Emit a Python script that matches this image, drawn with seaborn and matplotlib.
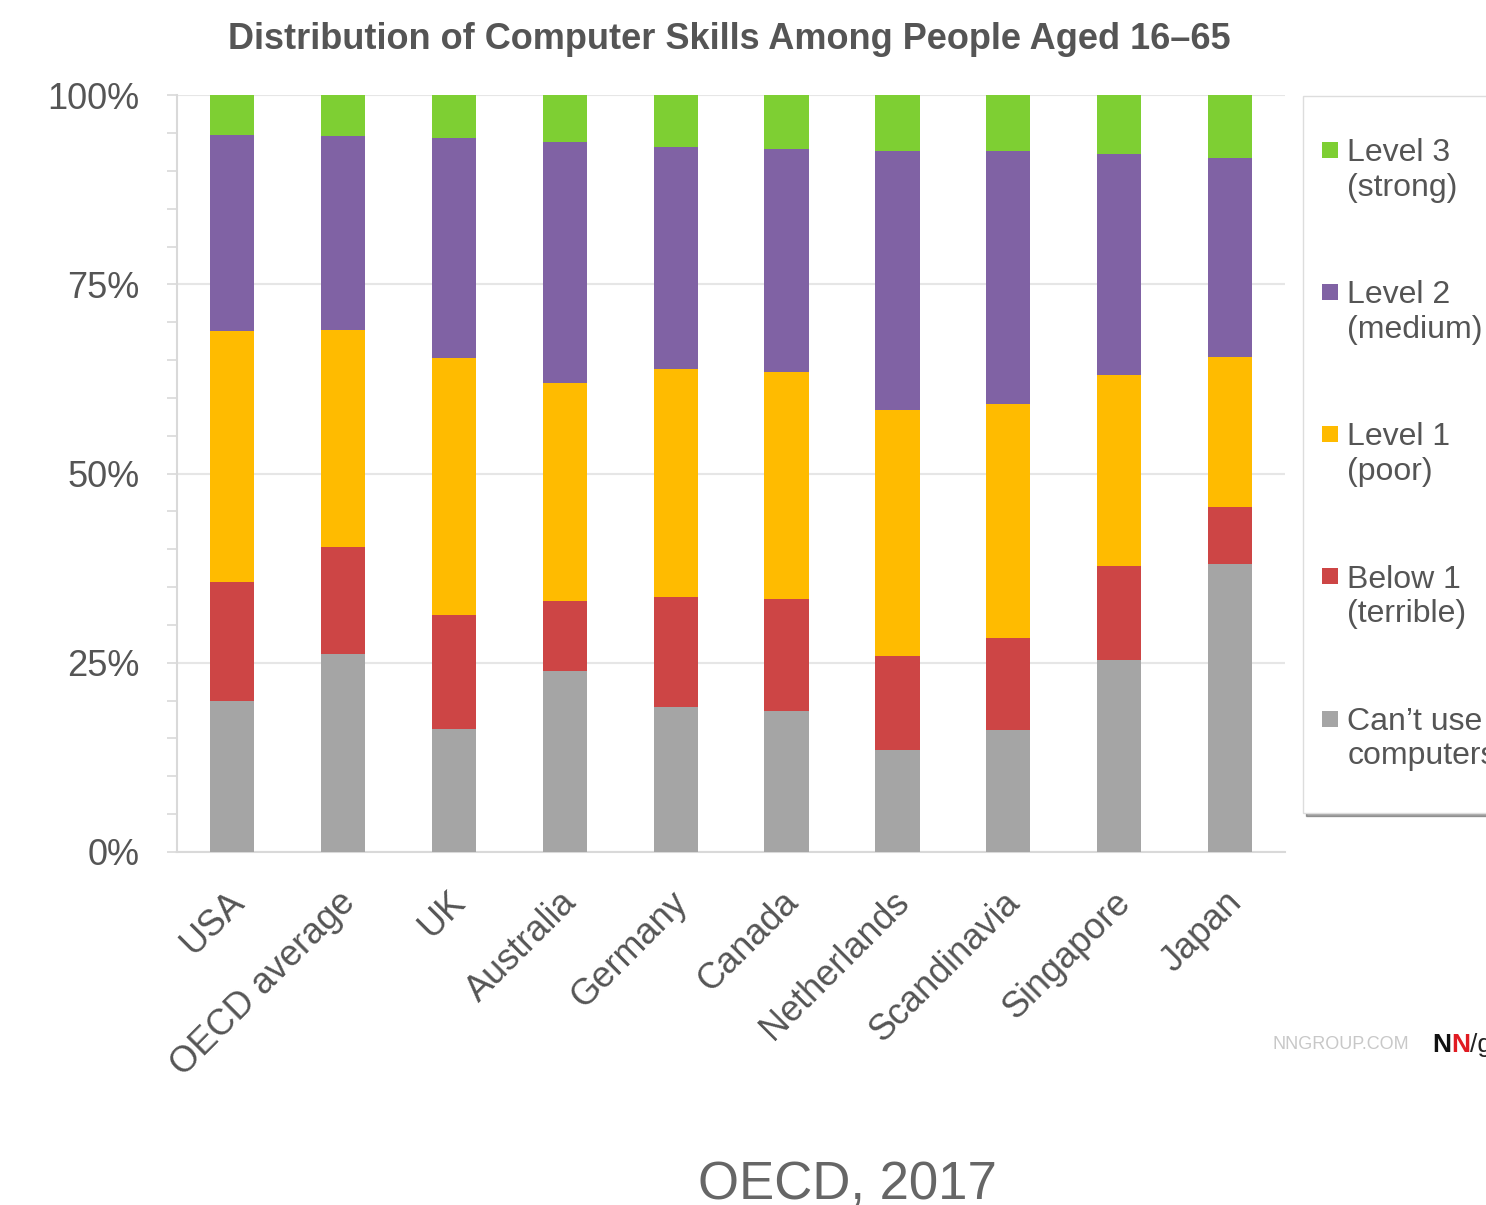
import matplotlib
matplotlib.use("Agg")
import matplotlib.pyplot as plt
import matplotlib.transforms as mtransforms
from matplotlib.patches import Patch, Rectangle
from matplotlib.legend_handler import HandlerPatch
from matplotlib.ticker import MultipleLocator, PercentFormatter
import seaborn as sns
import pandas as pd

countries = ['USA', 'OECD average', 'UK', 'Australia', 'Germany', 'Canada',
             'Netherlands', 'Scandinavia', 'Singapore', 'Japan']
# share of people (%) per skill level, bottom to top
cant_use = [20.0, 26.2, 16.2, 23.9, 19.2, 18.6, 13.5, 16.1, 25.4, 38.0]
below_1 = [15.7, 14.1, 15.1, 9.3, 14.5, 14.8, 12.4, 12.2, 12.4, 7.6]
level_1 = [33.1, 28.7, 34.0, 28.8, 30.1, 30.0, 32.5, 30.9, 25.2, 19.8]
level_2 = [26.0, 25.6, 29.0, 31.8, 29.3, 29.5, 34.2, 33.4, 29.2, 26.3]
level_3 = [5.2, 5.4, 5.7, 6.2, 6.9, 7.1, 7.4, 7.4, 7.8, 8.3]

levels = ["Can\u2019t use\ncomputers", 'Below 1\n(terrible)', 'Level 1\n(poor)',
          'Level 2\n(medium)', 'Level 3\n(strong)']
colors = ['#a5a5a5', '#cd4545', '#ffbb00', '#8062a4', '#7ecf33']

df = pd.DataFrame({'country': countries, levels[0]: cant_use, levels[1]: below_1,
                   levels[2]: level_1, levels[3]: level_2, levels[4]: level_3})
cum = df[levels].cumsum(axis=1)
cum['country'] = df['country']

sns.set_style('white')
plt.rcParams['font.family'] = ['Liberation Sans', 'DejaVu Sans']
grey = '#555555'

fig = plt.figure(figsize=(14.86, 12.05), dpi=100)
ax = fig.add_axes([0.119, 0.293, 0.746, 0.628])

# stacked bars: draw the tallest cumulative first, then cover downward
for lev, col in zip(levels[::-1], colors[::-1]):
    sns.barplot(data=cum, x='country', y=lev, color=col, width=0.4,
                saturation=1, ax=ax, zorder=3, linewidth=0)

ax.set_xlim(-0.5, 9.5)
ax.set_ylim(0, 100)
ax.set_xlabel('')
ax.set_ylabel('')
ax.yaxis.set_major_locator(MultipleLocator(25))
ax.yaxis.set_minor_locator(MultipleLocator(5))
ax.yaxis.set_major_formatter(PercentFormatter(decimals=0))
ax.grid(axis='y', color='#e6e6e6', linewidth=1.5, zorder=0)
for s in ['top', 'right']:
    ax.spines[s].set_visible(False)
for s in ['left', 'bottom']:
    ax.spines[s].set_color('#d9d9d9')
    ax.spines[s].set_linewidth(1.5)
ax.tick_params(axis='y', which='both', left=True, length=7, width=1.2,
               color='#d9d9d9', labelsize=26, labelcolor=grey, pad=20)
ax.tick_params(axis='x', bottom=False, labelsize=26, labelcolor=grey, pad=20)

offset = mtransforms.ScaledTranslation(-6 / 100, 0, fig.dpi_scale_trans)
for lab in ax.get_xticklabels():
    lab.set_rotation(45)
    lab.set_ha('right')
    lab.set_va('top')
    lab.set_rotation_mode('anchor')
    lab.set_transform(lab.get_transform() + offset)

fig.text(0.491, 0.967, 'Distribution of Computer Skills Among People Aged 16\u201365',
         ha='center', va='center', fontsize=26, fontweight='bold', color=grey)


# legend square sits next to the first line of each two-line label
def top_square(legend, orig_handle, xdescent, ydescent, width, height, fontsize):
    s = 0.5 * fontsize
    return Rectangle((-xdescent - 0.7 * fontsize, 1.0 * fontsize - s / 2), s, s)


handles = [Patch(facecolor=c, edgecolor='none') for c in colors[::-1]]
leg = fig.legend(handles, levels[::-1], loc='upper left',
                 bbox_to_anchor=(0.877, 0.92), frameon=True, fancybox=False,
                 shadow=True, fontsize=23, labelspacing=2.43, handlelength=0.05,
                 handleheight=0.7, handletextpad=0.03, borderpad=1.3,
                 borderaxespad=0, edgecolor='#dddddd',
                 handler_map={Patch: HandlerPatch(patch_func=top_square)})
for t in leg.get_texts():
    t.set_color(grey)

fig.text(0.856, 0.133, 'NNGROUP.COM', fontsize=13, color='#c8c8c8',
         ha='left', va='center')
fig.text(0.9637, 0.133, 'N', fontsize=19, color='#111111', fontweight='bold',
         ha='left', va='center')
fig.text(0.9765, 0.133, 'N', fontsize=19, color='#e01b22', fontweight='bold',
         ha='left', va='center')
fig.text(0.989, 0.133, '/g', fontsize=19, color='#222222',
         ha='left', va='center')

fig.text(0.57, 0.017, 'OECD, 2017', fontsize=38, color='#666666',
         ha='center', va='center')

fig.savefig('out.png', dpi=100)
